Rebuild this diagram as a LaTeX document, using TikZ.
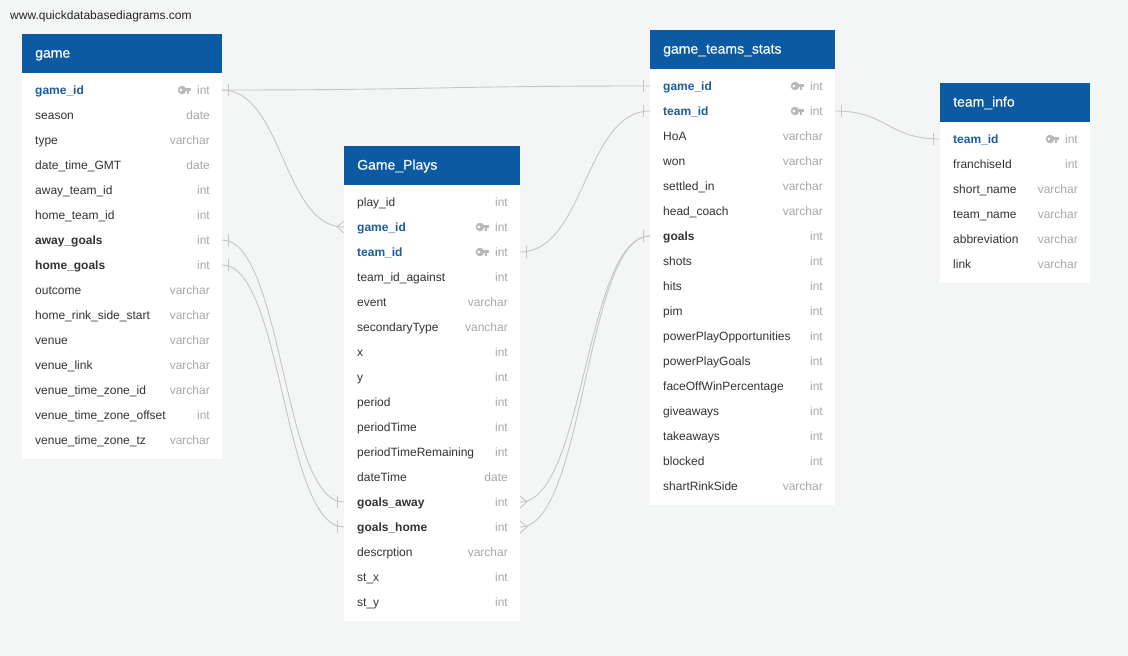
\documentclass[tikz,border=0pt]{standalone}
\usepackage{fontspec}
\setmainfont{Liberation Sans}
\newfontfamily\hdrfont[FakeBold=0.35]{Liberation Sans}
\usetikzlibrary{calc}
\definecolor{bg}{HTML}{F4F5F5}
\definecolor{hdr}{HTML}{0B5AA2}
\definecolor{keyc}{HTML}{1B5C9E}
\definecolor{txt}{HTML}{333333}
\definecolor{typ}{HTML}{A8A8A8}
\definecolor{ln}{HTML}{C6C6C6}
\definecolor{iconc}{HTML}{B9B9B9}
\tikzset{
  hdrbox/.style={fill=hdr, draw=none, inner sep=0, anchor=north west},
  bodybox/.style={fill=white, draw=none, inner sep=0, anchor=north west},
  ttl/.style={text=white, font=\hdrfont\fontsize{14}{16}\selectfont, anchor=mid west, inner sep=0},
  fld-n/.style={text=txt, font=\fontsize{12}{14}\selectfont, anchor=mid west, inner sep=0},
  fld-b/.style={text=txt, font=\fontsize{12}{14}\selectfont\bfseries, anchor=mid west, inner sep=0},
  fld-k/.style={text=keyc, font=\fontsize{12}{14}\selectfont\bfseries, anchor=mid west, inner sep=0},
  typtxt/.style={text=typ, font=\fontsize{12}{14}\selectfont, anchor=mid east, inner sep=0},
  conn/.style={draw=ln, line width=0.9pt},
  wmark/.style={text=black!85, font=\fontsize{12}{14}\selectfont, anchor=mid west, inner sep=0}
}
% #1 id, #2 title, #3 x, #4 ytop, #5 width, #6 rows count, #7 rows
\newcommand\erdtable[7]{%
  \node[hdrbox, minimum width=#5pt, minimum height=39pt] (#1-h) at (#3,#4) {};
  \node[bodybox, minimum width=#5pt, minimum height={36pt+(#6-1)*25pt}] (#1-b) at (#3,#4+39) {};
  \node[ttl] (#1-t) at (#3+13,#4+21) {#2};
  \foreach \f/\t/\s [count=\i] in {#7} {
    \coordinate (#1-L\i) at (#3,{#4+56+(\i-1)*25});
    \coordinate (#1-R\i) at ({#3+#5},{#4+56+(\i-1)*25});
    \node[fld-\s] (#1-f\i) at ({#3+13},{#4+58+(\i-1)*25}) {\f};
    \node[typtxt] (#1-y\i) at ({#3+#5-12},{#4+58+(\i-1)*25}) {\t};
    \if\s k
      \fill[iconc] ({#3+#5-40},{#4+56+(\i-1)*25}) circle (4.3);
      \fill[white] ({#3+#5-41.2},{#4+56+(\i-1)*25}) circle (1.5);
      \fill[iconc] ({#3+#5-38},{#4+56+(\i-1)*25-1.7}) rectangle ({#3+#5-31.5},{#4+56+(\i-1)*25+1.4});
      \fill[iconc] ({#3+#5-35},{#4+56+(\i-1)*25}) rectangle ({#3+#5-33.2},{#4+56+(\i-1)*25+3.6});
    \fi
  }
}
\newcommand\relline[2]{%
  \path ($(#1)!0.5!(#2)$) coordinate (relmid);
  \draw[conn] (#1) .. controls (relmid |- #1) and (relmid |- #2) .. (#2);
}
\newcommand\barR[1]{\draw[conn] ([shift={(6,-6)}]#1) -- ([shift={(6,6)}]#1);}
\newcommand\barL[1]{\draw[conn] ([shift={(-7,-6)}]#1) -- ([shift={(-7,6)}]#1);}
\newcommand\crowL[1]{\draw[conn] ([shift={(0,-6)}]#1) -- ([shift={(-7,0)}]#1) -- ([shift={(0,6)}]#1);}
\newcommand\crowR[1]{\draw[conn] ([shift={(0,-6)}]#1) -- ([shift={(7,0)}]#1) -- ([shift={(0,6)}]#1);}
\begin{document}
\begin{tikzpicture}[x=1pt,y=-1pt]
\fill[bg] (0,0) rectangle (1128,656);
\useasboundingbox (0,0) rectangle (1128,656);
\node[wmark] (wm) at (10,17) {www.quickdatabasediagrams.com};

\erdtable{game}{game}{22}{34}{200}{15}{game\_id/int/k, season/date/n, type/varchar/n, date\_time\_GMT/date/n, away\_team\_id/int/n, home\_team\_id/int/n, away\_goals/int/b, home\_goals/int/b, outcome/varchar/n, home\_rink\_side\_start/varchar/n, venue/varchar/n, venue\_link/varchar/n, venue\_time\_zone\_id/varchar/n, venue\_time\_zone\_offset/int/n, venue\_time\_zone\_tz/varchar/n}

\erdtable{gp}{Game\_Plays}{344}{146}{176}{17}{play\_id/int/n, game\_id/int/k, team\_id/int/k, team\_id\_against/int/n, event/varchar/n, secondaryType/vanchar/n, x/int/n, y/int/n, period/int/n, periodTime/int/n, periodTimeRemaining/int/n, dateTime/date/n, goals\_away/int/b, goals\_home/int/b, descrption/varchar/n, st\_x/int/n, st\_y/int/n}

\erdtable{gts}{game\_teams\_stats}{650}{30}{185}{17}{game\_id/int/k, team\_id/int/k, HoA/varchar/n, won/varchar/n, settled\_in/varchar/n, head\_coach/varchar/n, goals/int/b, shots/int/n, hits/int/n, pim/int/n, powerPlayOpportunities/int/n, powerPlayGoals/int/n, faceOffWinPercentage/int/n, giveaways/int/n, takeaways/int/n, blocked/int/n, shartRinkSide/varchar/n}

\erdtable{ti}{team\_info}{940}{83}{150}{6}{team\_id/int/k, franchiseId/int/n, short\_name/varchar/n, team\_name/varchar/n, abbreviation/varchar/n, link/varchar/n}

% connectors
\relline{game-R1}{gts-L1}
\barR{game-R1}\barL{gts-L1}
\relline{game-R1}{gp-L2}
\crowL{gp-L2}
\relline{game-R7}{gp-L13}
\barR{game-R7}\barL{gp-L13}
\relline{game-R8}{gp-L14}
\barR{game-R8}\barL{gp-L14}
\relline{gp-R3}{gts-L2}
\barR{gp-R3}\barL{gts-L2}
\relline{gts-L7}{gp-R13}
\relline{gts-L7}{gp-R14}
\barL{gts-L7}\crowR{gp-R13}\crowR{gp-R14}
\relline{gts-R2}{ti-L1}
\barR{gts-R2}\barL{ti-L1}
\end{tikzpicture}
\end{document}
